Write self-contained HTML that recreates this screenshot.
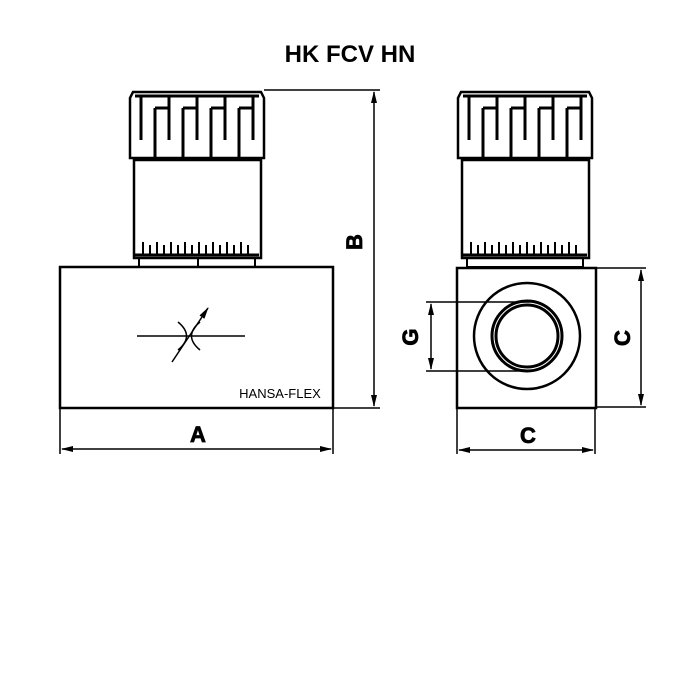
<!DOCTYPE html>
<html><head><style>body{margin:0;background:#fff}svg{display:block}</style></head><body>
<svg width="700" height="700" viewBox="0 0 700 700" xmlns="http://www.w3.org/2000/svg">
<defs><marker id="ar" markerWidth="12" markerHeight="8" refX="11" refY="4" orient="auto" markerUnits="userSpaceOnUse"><path d="M0,1 L12,4 L0,7 Z" fill="#000"/></marker></defs>
<text x="350" y="62" text-anchor="middle" font-family="Liberation Sans, sans-serif" font-weight="bold" font-size="24">HK FCV HN</text>
<g stroke="#000" fill="none" stroke-width="2.5">
<path d="M133,92 L261,92 L264,98 L264,158 L130,158 L130,98 Z"/>
<rect x="134" y="160" width="127" height="98"/>
<rect x="139" y="258" width="116" height="9" stroke-width="2"/>
<rect x="60" y="267" width="273" height="141"/>
<path d="M461,92 L589,92 L592,98 L592,158 L458,158 L458,98 Z"/>
<rect x="462" y="160" width="127" height="98"/>
<rect x="467" y="258" width="116" height="9" stroke-width="2"/>
<rect x="457" y="268" width="139" height="140"/>
<circle cx="527" cy="336" r="53"/>
<circle cx="527" cy="336" r="35" stroke-width="3"/>
<circle cx="527" cy="336" r="31" stroke-width="3"/>
</g>
<g stroke="#000" stroke-width="3" fill="none">
<path d="M135,96H259"/><path d="M463,96H587"/>
<path d="M141,96V140M155,108V158M169,96V140M183,108V158M197,96V140M211,108V158M225,96V140M239,108V158M253,96V140"/>
<path d="M155,108H169M183,108H197M211,108H225M239,108H253" stroke-width="3"/>
<path d="M469,96V140M483,108V158M497,96V140M511,108V158M525,96V140M539,108V158M553,96V140M567,108V158M581,96V140"/>
<path d="M483,108H497M511,108H525M539,108H553M567,108H581"/>
<path d="M143,242V256M150,245V256M157,242V256M164,245V256M171,242V256M178,245V256M185,242V256M192,245V256M199,242V256M206,245V256M213,242V256M220,245V256M227,242V256M234,245V256M241,242V256M248,245V256" stroke-width="2"/>
<path d="M471,242V256M478,245V256M485,242V256M492,245V256M499,242V256M506,245V256M513,242V256M520,245V256M527,242V256M534,245V256M541,242V256M548,245V256M555,242V256M562,245V256M569,242V256M576,245V256" stroke-width="2"/>
<path d="M135,255H259M463,255H587" stroke-width="3"/>
<path d="M198,258V268" stroke-width="2"/>
</g>
<g stroke="#000" fill="none" stroke-width="1.5">
<path d="M137,336H245"/>
<path d="M172,362L208,308" marker-end="url(#ar)"/>
<path d="M178,322Q195,336 178,350M200,322Q183,336 200,350"/>
<path d="M264,90H380M333,408H380"/>
<path d="M374,250V92" marker-end="url(#ar)"/><path d="M374,250V406" marker-end="url(#ar)"/>
<path d="M60,408V454M333,408V454"/>
<path d="M196,449H62" marker-end="url(#ar)"/><path d="M196,449H331" marker-end="url(#ar)"/>
<path d="M457,408V454M595,408V454"/>
<path d="M526,450H459" marker-end="url(#ar)"/><path d="M526,450H593" marker-end="url(#ar)"/>
<path d="M596,268H646M596,407H646"/>
<path d="M641,338V270" marker-end="url(#ar)"/><path d="M641,338V405" marker-end="url(#ar)"/>
<path d="M426,302H530M426,371H530"/>
<path d="M431,336V304" marker-end="url(#ar)"/><path d="M431,336V369" marker-end="url(#ar)"/>
</g>
<g font-family="Liberation Sans, sans-serif" font-weight="bold" fill="#000" stroke="#000" stroke-width="0.8">
<text x="198" y="442" font-size="22" text-anchor="middle">A</text>
<text x="528" y="443" font-size="22" text-anchor="middle">C</text>
<text transform="translate(362,242) rotate(-90)" font-size="22" text-anchor="middle">B</text>
<text transform="translate(630,338) rotate(-90)" font-size="22" text-anchor="middle">C</text>
<text transform="translate(418,337) rotate(-90)" font-size="22" text-anchor="middle">G</text>
<text x="280" y="398" font-size="13" text-anchor="middle" font-weight="normal" stroke="none">HANSA-FLEX</text>
</g>
</svg>
</body></html>
